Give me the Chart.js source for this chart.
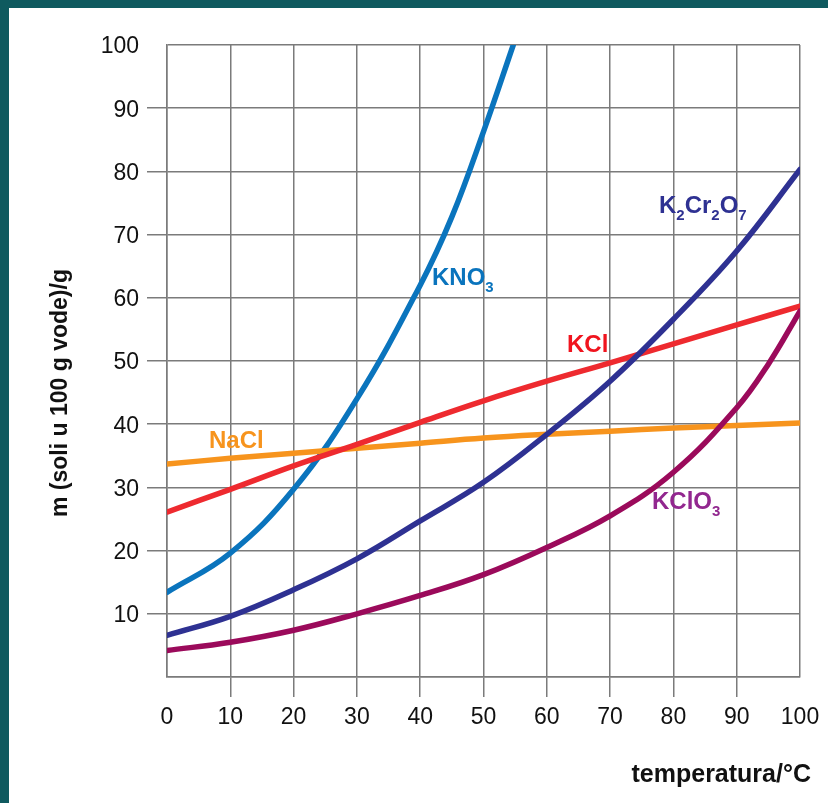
<!DOCTYPE html>
<html>
<head>
<meta charset="utf-8">
<script src="https://cdn.jsdelivr.net/npm/chart.js@4.4.1/dist/chart.umd.min.js"></script>
<style>
  html, body { margin: 0; padding: 0; background: #fff; }
  canvas { display: block; }
</style>
</head>
<body>
<canvas id="topljivost" width="828" height="803"></canvas>
<script>
// Topljivost soli u vodi - podaci procitani s grafa
var temperature = [0, 10, 20, 30, 40, 50, 60, 70, 80, 90, 100];
var nacl = [33.7, 34.6, 35.4, 36.2, 37.0, 37.8, 38.4, 38.9, 39.4, 39.8, 40.2];
var kcl = [26.1, 29.7, 33.4, 36.8, 40.3, 43.7, 46.8, 49.7, 52.7, 55.7, 58.7];
var k2cr2o7 = [6.6, 9.6, 13.8, 18.7, 24.7, 30.8, 38.4, 46.8, 56.6, 67.4, 80.3];
var kclo3Temp = [0, 10, 20, 30, 40, 50, 60, 70, 80, 90, 95, 100];
var kclo3 = [4.2, 5.5, 7.4, 10.0, 12.9, 16.2, 20.5, 25.5, 32.4, 42.6, 49.5, 57.9];
var kno3Temp = [0, 10, 20, 30, 40, 45, 50, 54.7];
var kno3 = [13.4, 19.6, 29.7, 44.0, 62.0, 72.8, 86.3, 100];
var osTicks = [0, 10, 20, 30, 40, 50, 60, 70, 80, 90, 100];

var FONT = '"Liberation Sans", Arial, Helvetica, sans-serif';
var GRID = '#7b7b7b';

function tocke(xs, ys) {
    return xs.map(function (x, i) { return { x: x, y: ys[i] }; });
}

function serija(label, xs, ys, boja) {
    return {
        label: label,
        data: tocke(xs, ys),
        borderColor: boja,
        backgroundColor: boja,
        borderWidth: 5.5,
        borderCapStyle: 'round',
        pointRadius: 0,
        pointHoverRadius: 0,
        tension: 0.4,
        fill: false
    };
}

// ispis formule s indeksima: dijelovi [tekst, jeIndeks]
function formula(ctx, dijelovi, x, y, boja) {
    ctx.fillStyle = boja;
    ctx.textBaseline = 'alphabetic';
    ctx.textAlign = 'left';
    dijelovi.forEach(function (d) {
        ctx.font = d[1] ? 'bold 15px ' + FONT : 'bold 24px ' + FONT;
        ctx.fillText(d[0], x, d[1] ? y + 7 : y);
        x += ctx.measureText(d[0]).width;
    });
}

var natpisi = {
    id: 'natpisi',
    beforeDraw: function (chart) {
        var ctx = chart.ctx;
        ctx.save();
        ctx.fillStyle = '#0f5a5f';
        ctx.fillRect(0, 0, 9, chart.height);
        ctx.fillRect(0, 0, chart.width, 8);
        ctx.restore();
    },
    afterDraw: function (chart) {
        var ctx = chart.ctx;
        ctx.save();
        formula(ctx, [['KNO', false], ['3', true]], 432, 285, '#0a74bd');
        formula(ctx, [['K', false], ['2', true], ['Cr', false], ['2', true], ['O', false], ['7', true]], 659, 213, '#2e3192');
        formula(ctx, [['KCl', false]], 567, 352, '#f0141e');
        formula(ctx, [['NaCl', false]], 209, 448, '#f7941d');
        formula(ctx, [['KClO', false], ['3', true]], 652, 509, '#92278f');

        // naslovi osi
        ctx.fillStyle = '#111';
        ctx.font = 'bold 25px ' + FONT;
        ctx.textAlign = 'right';
        ctx.textBaseline = 'alphabetic';
        ctx.fillText('temperatura/°C', 811, 782);

        ctx.translate(67, 393);
        ctx.rotate(-Math.PI / 2);
        ctx.textAlign = 'center';
        ctx.font = 'bold 23px ' + FONT;
        ctx.fillText('m (soli u 100 g vode)/g', 0, 0);
        ctx.restore();
    }
};

function bojaCrtice(c) {
    if (c.tick && (c.tick.value === 0 || c.tick.value === 100)) return 'rgba(0,0,0,0)';
    return GRID;
}

var ctx = document.getElementById('topljivost').getContext('2d');
var graf = new Chart(ctx, {
    type: 'line',
    data: {
        datasets: [
            serija('KClO3', kclo3Temp, kclo3, '#9b0a5b'),
            serija('K2Cr2O7', temperature, k2cr2o7, '#2e3192'),
            serija('KCl', temperature, kcl, '#ee2a2f'),
            serija('NaCl', temperature, nacl, '#f7941d'),
            serija('KNO3', kno3Temp, kno3, '#0a74bd')
        ]
    },
    options: {
        responsive: false,
        animation: false,
        devicePixelRatio: 1,
        layout: { padding: { top: 45, right: 28, bottom: 0, left: 0 } },
        plugins: {
            legend: { display: false },
            tooltip: { enabled: false }
        },
        scales: {
            x: {
                type: 'linear',
                min: 0,
                max: 100,
                afterBuildTicks: function (s) { s.ticks = osTicks.map(function (v) { return { value: v }; }); },
                afterFit: function (s) { s.height = 126; },
                ticks: {
                    stepSize: 10,
                    color: '#111',
                    padding: 7,
                    maxRotation: 0,
                    font: { family: FONT, size: 23 }
                },
                grid: { color: GRID, lineWidth: 1.5, tickLength: 20, tickColor: bojaCrtice },
                border: { color: GRID, width: 1.5 }
            },
            y: {
                min: 0,
                max: 100,
                afterBuildTicks: function (s) { s.ticks = osTicks.map(function (v) { return { value: v }; }); },
                afterFit: function (s) { s.width = 167; },
                ticks: {
                    stepSize: 10,
                    color: '#111',
                    padding: 8,
                    labelOffset: 2,
                    font: { family: FONT, size: 23 },
                    callback: function (v) { return v === 0 ? '' : v; }
                },
                grid: { color: GRID, lineWidth: 1.5, tickLength: 20, tickColor: bojaCrtice },
                border: { color: GRID, width: 1.5 }
            }
        }
    },
    plugins: [natpisi]
});
</script>
</body>
</html>
